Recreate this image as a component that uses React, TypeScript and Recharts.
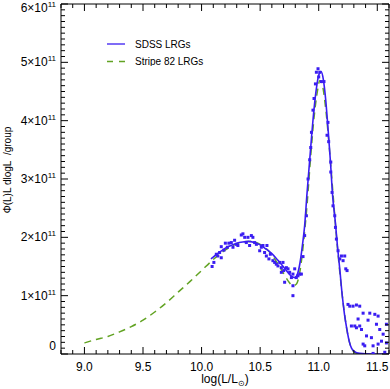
import React from "react"
import {
  ComposedChart,
  Line,
  Scatter,
  XAxis,
  YAxis,
  ReferenceLine,
  Legend,
} from "recharts"

// SDSS LRG fit (log L, phi in units of 1e11)
const sdssLogL = [
  10.08, 10.15, 10.2, 10.25, 10.3, 10.35, 10.4, 10.45, 10.5, 10.55, 10.6, 10.65,
  10.7, 10.74, 10.77, 10.795, 10.82, 10.84, 10.86, 10.88, 10.9, 10.92, 10.94, 10.96,
  10.98, 11.0, 11.02, 11.04, 11.06, 11.08, 11.1, 11.12, 11.14, 11.16, 11.18, 11.2,
  11.22, 11.24, 11.26, 11.28, 11.3, 11.35, 11.45, 11.6,
]
const sdssPhi = [
  1.63, 1.74, 1.81, 1.86, 1.9, 1.92, 1.93, 1.91, 1.87, 1.8, 1.72, 1.61,
  1.49, 1.39, 1.33, 1.31, 1.38, 1.56, 1.85, 2.2, 2.75, 3.25, 3.75, 4.2,
  4.55, 4.78, 4.84, 4.7, 4.35, 3.85, 3.3, 2.68, 2.3, 1.85, 1.45, 1.02,
  0.68, 0.43, 0.22, 0.1, 0.05, 0.01, 0, 0,
]

// Stripe 82 LRG fit
const s82LogL = [
  9.0, 9.1, 9.2, 9.3, 9.4, 9.5, 9.6, 9.7, 9.8, 9.9, 10.0, 10.1, 10.2, 10.3, 10.4,
  10.45, 10.5, 10.55, 10.6, 10.65, 10.7, 10.74, 10.78, 10.81, 10.84, 10.87, 10.9,
  10.93, 10.96, 10.99, 11.01, 11.03, 11.06, 11.09, 11.12, 11.15, 11.18, 11.21,
  11.24, 11.27, 11.3, 11.34,
]
const s82Phi = [
  0.19, 0.25, 0.3, 0.38, 0.47, 0.58, 0.72, 0.88, 1.06, 1.24, 1.43, 1.62, 1.78, 1.89, 1.93,
  1.92, 1.88, 1.81, 1.7, 1.55, 1.38, 1.25, 1.17, 1.2, 1.42, 1.9, 2.55,
  3.35, 4.05, 4.52, 4.69, 4.62, 4.2, 3.55, 2.8, 2.05, 1.4, 0.85,
  0.42, 0.15, 0.04, 0,
]

// SDSS binned points
const dotLogL = [
  10.09, 10.105, 10.126, 10.139, 10.154, 10.168, 10.168, 10.191, 10.203, 10.22, 10.233,
  10.254, 10.268, 10.282, 10.297, 10.31, 10.339, 10.353, 10.368, 10.382, 10.396, 10.41,
  10.425, 10.438, 10.453, 10.468, 10.496, 10.51, 10.524, 10.538, 10.553, 10.558, 10.575,
  10.587, 10.609, 10.624, 10.638, 10.652, 10.667, 10.681, 10.681, 10.695, 10.701, 10.709,
  10.724, 10.738, 10.752, 10.767, 10.78, 10.78, 10.78, 10.795, 10.809, 10.823, 10.838,
  10.852, 10.866,
  10.88, 10.895, 10.909, 10.923, 10.932, 10.938, 10.951, 10.96, 10.972, 10.98, 10.994,
  11.0, 11.009, 11.023, 11.045, 11.071, 11.079, 11.085, 11.103, 11.103, 11.114, 11.122,
  11.137, 11.143, 11.151, 11.165, 11.18, 11.194, 11.208, 11.222, 11.231, 11.242,
  11.25, 11.265, 11.293, 11.322, 11.35, 11.379, 11.436, 11.479, 11.507, 11.336, 11.421,
  11.279, 11.308, 11.35, 11.322, 11.365, 11.493, 11.521, 11.408, 11.45, 11.55, 11.578,
  11.393, 11.464, 11.507, 11.536, 11.578, 11.464, 11.564, 11.379,
]
const dotPhi = [
  1.5, 1.57, 1.71, 1.68, 1.74, 1.65, 1.84, 1.78, 1.9, 1.83, 1.9,
  1.91, 1.83, 1.95, 1.88, 1.86, 2.04, 2.06, 2.0, 1.91, 2.0, 1.86,
  2.03, 2.0, 1.91, 1.88, 1.77, 1.83, 1.86, 1.74, 1.68, 1.86, 1.63,
  1.71, 1.6, 1.57, 1.54, 1.51, 1.57, 1.48, 1.4, 1.57, 1.43, 1.23,
  1.48, 1.46, 1.4, 1.31, 1.37, 1.17, 1.0, 1.46, 1.31, 1.34, 1.37,
  1.37, 1.67,
  2.03, 2.37, 3.0, 3.33, 3.54, 3.8, 4.18, 4.38, 4.63, 4.83, 4.89,
  4.75, 4.83, 4.67, 4.67, 3.75, 3.97, 3.64, 3.29, 3.12, 2.77, 2.54,
  2.37, 2.17, 1.97, 1.77, 1.63, 1.68, 1.6, 1.68, 1.46, 1.43,
  0.85, 0.82, 0.82, 0.84, 0.82, 0.7, 0.7, 0.68, 0.65, 0.6, 0.58,
  0.48, 0.48, 0.48, 0.45, 0.42, 0.51, 0.42, 0.31, 0.28, 0.34, 0.51,
  0.14, 0.14, 0.17, 0.22, 0.19, 0.01, 0.03, 0.17,
]

const xTickLabels = ["9.0", "9.5", "10.0", "10.5", "11.0", "11.5"]
const yTickLabels = ["0", "1", "2", "3", "4", "5", "6"]

const sdssLine = sdssLogL.map((x, i) => ({ x, y: sdssPhi[i] }))
const s82Line = s82LogL.map((x, i) => ({ x, y: s82Phi[i] }))
const sdssDots = dotLogL.map((x, i) => ({ x, y: dotPhi[i] }))

const xTicks = Array.from({ length: 29 }, (_, i) => (88 + i) / 10)
const yTicks = Array.from({ length: 61 }, (_, i) => i / 10)

const W = 390
const H = 389
const PL = 61
const PR = 389
const PT = 4
const PB = 354

const BLUE = "#3a1df2"
const GREEN = "#62a323"
const FONT = "'Liberation Sans', Arial, Helvetica, sans-serif"

function XTick({ x, payload }: any) {
  const v = Math.round(payload.value * 10)
  const major = v % 5 === 0
  const len = major ? 7 : 4
  const label = major ? xTickLabels.find((l) => Math.round(parseFloat(l) * 10) === v) : null
  return (
    <g>
      <line x1={x} x2={x} y1={PB} y2={PB - len} stroke="#000" />
      <line x1={x} x2={x} y1={PT} y2={PT + len} stroke="#000" />
      {label && (
        <text x={x} y={371} textAnchor="middle" fontSize={12} fontFamily={FONT} fill="#000">
          {label}
        </text>
      )}
    </g>
  )
}

function YTick({ y, payload }: any) {
  const v = Math.round(payload.value * 10)
  const major = v % 10 === 0
  const len = major ? 7 : 4
  const label = major ? yTickLabels[v / 10] : null
  let dy = 4
  if (v === 0) dy = -4
  if (v === 60) dy = 8
  return (
    <g>
      <line x1={PL} x2={PL + len} y1={y} y2={y} stroke="#000" />
      <line x1={PR} x2={PR - len} y1={y} y2={y} stroke="#000" />
      {label && (
        <text x={56} y={y + dy} textAnchor="end" fontSize={12} fontFamily={FONT} fill="#000">
          {label === "0" ? (
            "0"
          ) : (
            <>
              <tspan>{label}×10</tspan>
              <tspan fontSize={8} dy={-5}>11</tspan>
            </>
          )}
        </text>
      )}
    </g>
  )
}

function LegendBox() {
  return (
    <svg width={120} height={30} style={{ display: "block" }}>
      <line x1={7} x2={25} y1={8} y2={8} stroke={BLUE} strokeWidth={1.3} />
      <text x={35} y={11.5} fontSize={10} fontFamily={FONT} fill="#000">
        SDSS LRGs
      </text>
      <line x1={7} x2={25} y1={25.5} y2={25.5} stroke={GREEN} strokeWidth={1.3} strokeDasharray="6 6" />
      <text x={35} y={29} fontSize={10} fontFamily={FONT} fill="#000">
        Stripe 82 LRGs
      </text>
    </svg>
  )
}

export default function App() {
  return (
    <div style={{ position: "absolute", left: 0, top: 0, width: W, height: H, background: "#fff" }}>
      <ComposedChart
        width={W}
        height={H}
        margin={{ top: PT, right: W - PR, bottom: 0, left: 0 }}
      >
        <XAxis
          dataKey="x"
          type="number"
          domain={[8.8, 11.6]}
          ticks={xTicks}
          interval={0}
          height={H - PB}
          tickLine={false}
          axisLine={{ stroke: "#000" }}
          tick={<XTick />}
          allowDataOverflow
        />
        <YAxis
          type="number"
          domain={[0, 6]}
          ticks={yTicks}
          interval={0}
          width={PL}
          tickLine={false}
          axisLine={{ stroke: "#000" }}
          tick={<YTick />}
          allowDataOverflow
        />
        <ReferenceLine y={6} stroke="#000" />
        <ReferenceLine x={11.6} stroke="#000" />
        <Scatter
          data={sdssDots}
          dataKey="y"
          fill={BLUE}
          isAnimationActive={false}
          shape={(p: any) => <rect x={p.cx - 1.5} y={p.cy - 1.5} width={3} height={3} fill={BLUE} />}
        />
        <Line
          data={s82Line}
          dataKey="y"
          type="monotone"
          stroke={GREEN}
          strokeWidth={1.5}
          strokeDasharray="7 5"
          dot={false}
          isAnimationActive={false}
        />
        <Line
          data={sdssLine}
          dataKey="y"
          type="monotone"
          stroke={BLUE}
          strokeWidth={1.6}
          dot={false}
          isAnimationActive={false}
        />
        <Legend
          layout="horizontal"
          align="center"
          verticalAlign="middle"
          content={<LegendBox />}
          wrapperStyle={{ left: 100, top: 36, width: 120, height: 30 }}
        />
        <text
          x={225}
          y={383}
          textAnchor="middle"
          fontSize={12}
          fontFamily={FONT}
          fill="#000"
        >
          log(L/L<tspan fontSize={8} dy={3}>⊙</tspan>
          <tspan dy={-3}>)</tspan>
        </text>
        <text
          x={11}
          y={170}
          transform="rotate(-90 11 170)"
          textAnchor="middle"
          fontSize={10}
          fontFamily={FONT}
          fill="#000"
        >
          {"Φ(L)L dlogL\u00a0 /group"}
        </text>
      </ComposedChart>
    </div>
  )
}
